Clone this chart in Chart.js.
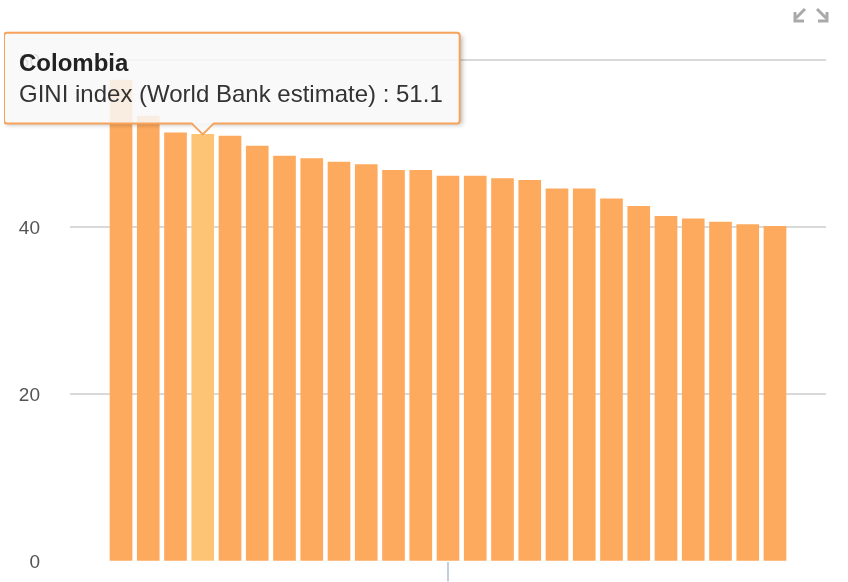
<!DOCTYPE html>
<html>
<head>
<meta charset="utf-8">
<script src="https://cdn.jsdelivr.net/npm/chart.js@4"></script>
<style>
  html, body { margin: 0; padding: 0; background: #fff; }
  #wrap { position: relative; width: 848px; height: 582px; overflow: hidden; }
  #giniChart { position: absolute; left: 4px; top: 0; }
  #icons { position: absolute; left: 792px; top: 7px; }
</style>
</head>
<body>
<div id="wrap">
  <canvas id="giniChart" width="844" height="582"></canvas>
  <svg id="icons" width="40" height="18" viewBox="0 0 40 18">
    <g stroke="#a9a9a9" stroke-width="3" fill="none">
      <path d="M13 2 L4 11" />
      <path d="M3 5 L3 14 L12 14" />
      <path d="M25 2 L34 11" />
      <path d="M35 5 L35 14 L26 14" />
    </g>
  </svg>
</div>
<script>
const seriesLabel = 'GINI index (World Bank estimate)';

const countries = [
  'Zambia', 'Botswana', 'Brazil', 'Colombia', 'Panama',
  'Honduras', 'Guatemala', 'Costa Rica', 'Paraguay', 'Chile',
  'Ecuador', 'Nicaragua', 'Dominican Republic', 'Mexico', 'Bolivia',
  'Benin', 'Peru', 'Cameroon', 'Uganda', 'Madagascar',
  'Malaysia', 'Uruguay', 'Kenya', 'Philippines', 'Turkey',
];

const giniValues = [
  57.6, 53.3, 51.3, 51.1, 50.9,
  49.7, 48.5, 48.2, 47.8, 47.5,
  46.8, 46.8, 46.1, 46.1, 45.8,
  45.6, 44.6, 44.6, 43.4, 42.5,
  41.3, 41.0, 40.6, 40.3, 40.1,
];

const yTicks = [0, 20, 40, 60];
const xTicks = [12];

const highlighted = 3; // Colombia

const FONT = "'Liberation Sans', Arial, Helvetica, sans-serif";

Chart.Tooltip.positioners.barTop = function (items) {
  if (!items.length) return false;
  const el = items[0].element;
  return { x: el.x, y: el.y };
};

// soft shadow around the tooltip box (outside only)
const tooltipShadow = {
  id: 'tooltipShadow',
  beforeTooltipDraw(chart, args) {
    const tt = args.tooltip;
    if (!tt || !tt.opacity) return;
    const ctx = chart.ctx;
    ctx.save();
    ctx.beginPath();
    ctx.rect(0, 0, chart.width, chart.height);
    ctx.rect(tt.x, tt.y, tt.width, tt.height);
    ctx.clip('evenodd');
    ctx.shadowColor = 'rgba(0,0,0,0.3)';
    ctx.shadowBlur = 5;
    ctx.shadowOffsetX = 10000 + 2;
    ctx.shadowOffsetY = 2;
    ctx.fillStyle = '#000';
    ctx.fillRect(tt.x - 10000, tt.y, tt.width, tt.height);
    ctx.restore();
  },
};

const chartData = countries.map((name, i) => ({ x: i, y: giniValues[i] }));

const chart = new Chart(document.getElementById('giniChart'), {
  type: 'bar',
  data: {
    datasets: [
      {
        label: seriesLabel,
        data: chartData,
        backgroundColor: '#fdaa5e',
        hoverBackgroundColor: '#fdc476',
        borderWidth: 0,
        barThickness: 22,
      },
    ],
  },
  options: {
    responsive: false,
    devicePixelRatio: 1,
    animation: false,
    events: [],
    layout: {
      padding: { top: 60, right: 22, bottom: 0.5, left: 0 },
    },
    plugins: {
      legend: { display: false },
      tooltip: {
        position: 'barTop',
        xAlign: 'center',
        yAlign: 'bottom',
        backgroundColor: 'rgba(248,248,248,0.86)',
        borderColor: '#f7a35c',
        borderWidth: 2,
        cornerRadius: 3,
        caretSize: 11,
        caretPadding: 0,
        padding: { top: 17, bottom: 14, left: 15, right: 17 },
        displayColors: false,
        titleColor: '#222',
        bodyColor: '#333',
        titleFont: { family: FONT, size: 24, weight: 'bold' },
        bodyFont: { family: FONT, size: 24 },
        titleMarginBottom: 2,
        callbacks: {
          title: (items) => countries[items[0].dataIndex],
          label: (ctx) => `${ctx.dataset.label} : ${ctx.parsed.y}`,
        },
      },
    },
    scales: {
      x: {
        type: 'linear',
        offset: false,
        min: -1.872,
        max: 25.872,
        afterBuildTicks: (scale) => {
          scale.ticks = xTicks.map((v) => ({ value: v }));
        },
        ticks: { display: false },
        border: { display: false },
        grid: {
          offset: false,
          drawOnChartArea: false,
          drawTicks: true,
          tickLength: 20,
          color: '#c3cfdb',
          lineWidth: 2,
        },
      },
      y: {
        min: 0,
        max: 60,
        afterBuildTicks: (scale) => {
          scale.ticks = yTicks.map((v) => ({ value: v }));
        },
        afterFit: (scale) => {
          scale.width = 66;
        },
        border: { display: false },
        grid: {
          drawTicks: true,
          tickLength: 30,
          tickColor: 'rgba(0,0,0,0)',
          lineWidth: 2,
          color: (ctx) => (ctx.tick && ctx.tick.value === 0 ? 'rgba(0,0,0,0)' : '#d9d9d9'),
        },
        ticks: {
          padding: 0,
          labelOffset: 1.5,
          color: '#555',
          font: { family: FONT, size: 19 },
        },
      },
    },
  },
  plugins: [tooltipShadow],
});

const active = [{ datasetIndex: 0, index: highlighted }];
chart.setActiveElements(active);
const el = chart.getDatasetMeta(0).data[highlighted];
chart.tooltip.setActiveElements(active, { x: el.x, y: el.y });
chart.update();
</script>
</body>
</html>
